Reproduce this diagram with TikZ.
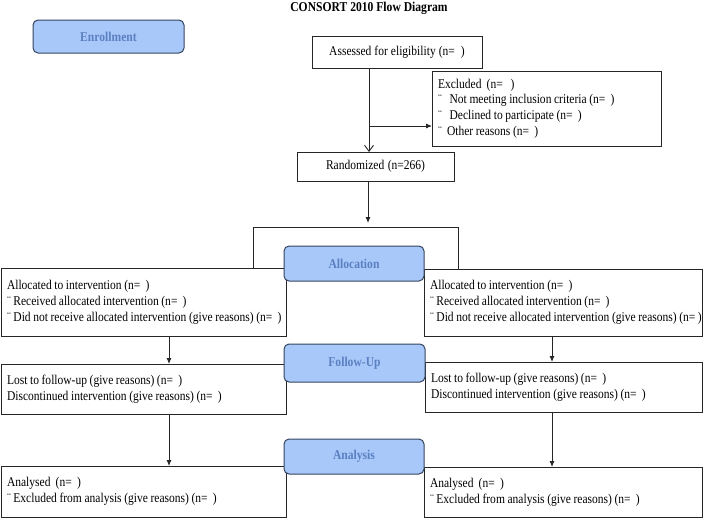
\documentclass[tikz,border=0pt]{standalone}
\usepackage{fontspec}
\setmainfont[FakeStretch=0.86]{Liberation Serif}
\usetikzlibrary{arrows.meta}
\definecolor{stagefill}{HTML}{A9C8FA}
\definecolor{stagetext}{HTML}{5B80C2}
\definecolor{stageline}{HTML}{34445F}
\tikzset{
  box/.style={draw=black!85, line width=0.9pt, fill=white, anchor=north west, outer sep=0pt,
    inner xsep=6pt, inner ysep=0pt, align=left,
    font=\fontsize{13.4}{15.8}\selectfont,
    execute at begin node={\spaceskip=2.6pt plus 1pt\relax}},
  stage/.style={draw=stageline, line width=1pt, fill=stagefill, rounded corners=5pt, anchor=north west,
    outer sep=0pt, inner sep=0pt, text=stagetext, font=\fontsize{13.5}{15}\selectfont\bfseries},
  conn/.style={line width=0.9pt, draw=black!85},
  fillarrow/.style={conn, -{Latex[length=6pt,width=5pt]}},
  openarrow/.style={conn, -{Straight Barb[length=6pt,width=9pt]}},
}
\begin{document}
\begin{tikzpicture}[x=1pt,y=-1pt]
\useasboundingbox (0,0) rectangle (709,520);
% title
\node[font=\fontsize{13.5}{15}\selectfont\bfseries, anchor=north] (title) at (369,-1) {CONSORT 2010 Flow Diagram};
% stage label
\node[stage, minimum width=151pt, minimum height=33pt] (enrol) at (33,20) {Enrollment};
% enrollment boxes
\node[box, minimum height=32pt, text width=158pt, align=center] (assess) at (312,36) {Assessed for eligibility (n=\ \ )};
\node[box, minimum height=75pt, text width=217pt] (excl) at (432,71) {Excluded\ \ (n=\ \ \ )\\
¨\ \ \ Not meeting inclusion criteria (n=\ \ )\\
¨\ \ \ Declined to participate (n=\ \ )\\
¨\ \ Other reasons (n=\ \ )};
\node[box, minimum height=29pt, text width=145pt, align=center] (rand) at (297,152) {Randomized (n=266)};
% helper coordinates
\coordinate (spine) at (369,0);
\coordinate (exrow) at (0,126);
\coordinate (rspine) at (368,0);
\coordinate (arrend) at (368,223);
\coordinate (bl) at (253,227);
\coordinate (br) at (458,227);
% allocation boxes
\node[box, minimum height=68pt, text width=273pt] (allocL) at (1,268) {Allocated to intervention (n=\ \ )\\
¨ Received allocated intervention (n=\ \ )\\
\mbox{¨ Did not receive allocated intervention (give reasons) (n=\ \ )}};
\node[box, minimum height=67pt, text width=266pt] (allocR) at (424,269) {Allocated to intervention (n=\ \ )\\
¨ Received allocated intervention (n=\ \ )\\
\mbox{¨ Did not receive allocated intervention (give reasons) (n=\ )}};
% follow-up boxes
\node[box, minimum height=50pt, text width=273pt] (lostL) at (1,364) {Lost to follow-up (give reasons) (n=\ \ )\\
Discontinued intervention (give reasons) (n=\ \ )};
\node[box, minimum height=50pt, text width=265pt] (lostR) at (425,362) {Lost to follow-up (give reasons) (n=\ \ )\\
Discontinued intervention (give reasons) (n=\ \ )};
% analysis boxes
\node[box, minimum height=51pt, text width=273pt] (anaL) at (1,466) {Analysed\ \ (n=\ \ )\\
¨ Excluded from analysis (give reasons) (n=\ \ )};
\node[box, minimum height=50pt, text width=266pt] (anaR) at (424,467) {Analysed\ \ (n=\ \ )\\
¨ Excluded from analysis (give reasons) (n=\ \ )};
% stage labels over boxes
\node[stage, minimum width=140pt, minimum height=35pt] (alloc) at (284,246) {Allocation};
\node[stage, minimum width=141pt, minimum height=38pt] (follow) at (284,344) {Follow-Up};
\node[stage, minimum width=140pt, minimum height=35pt] (analysis) at (284,439) {Analysis};
% connectors
\draw[openarrow] (assess.south -| spine) -- (rand.north -| spine);
\draw[fillarrow] (spine |- exrow) -- (excl.west |- exrow);
\draw[fillarrow] (rand.south -| rspine) -- (arrend);
\draw[conn] (allocL.north -| bl) -- (bl) -- (br) -- (allocR.north -| br);
\coordinate (lx) at (169,0);
\coordinate (rx) at (552,0);
\draw[fillarrow] (allocL.south -| lx) -- (lostL.north -| lx);
\draw[fillarrow] (allocR.south -| rx) -- (lostR.north -| rx);
\draw[fillarrow] (lostL.south -| lx) -- (anaL.north -| lx);
\draw[fillarrow] (lostR.south -| rx) -- (anaR.north -| rx);
\end{tikzpicture}
\end{document}
